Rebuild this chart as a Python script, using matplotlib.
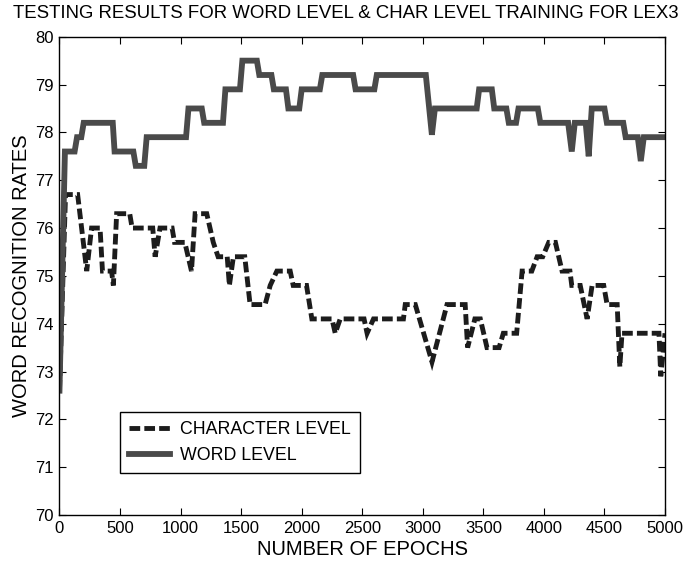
import numpy as np
import matplotlib
matplotlib.use('Agg')
import matplotlib.pyplot as plt

plt.rcParams['font.family'] = ['Liberation Sans', 'DejaVu Sans']

# corner points (epoch, recognition rate)
word_epochs = [0, 45, 125, 145, 180, 200, 440, 455, 610, 630, 700, 720, 1045, 1065,
               1175, 1195, 1350, 1370, 1490, 1510, 1630, 1650, 1750, 1770, 1870, 1890,
               1980, 2000, 2150, 2170, 2425, 2445, 2600, 2620, 3025, 3075, 3100, 3445,
               3465, 3570, 3590, 3690, 3710, 3770, 3790, 3950, 3970, 4200, 4230, 4255,
               4345, 4370, 4395, 4500, 4520, 4655, 4675, 4775, 4800, 4825, 5000]
word_rates = [72.6, 77.6, 77.6, 77.9, 77.9, 78.2, 78.2, 77.6, 77.6, 77.3, 77.3, 77.9, 77.9, 78.5,
              78.5, 78.2, 78.2, 78.9, 78.9, 79.5, 79.5, 79.2, 79.2, 78.9, 78.9, 78.5,
              78.5, 78.9, 78.9, 79.2, 79.2, 78.9, 78.9, 79.2, 79.2, 77.95, 78.5, 78.5,
              78.9, 78.9, 78.5, 78.5, 78.2, 78.2, 78.5, 78.5, 78.2, 78.2, 77.6, 78.2,
              78.2, 77.5, 78.5, 78.5, 78.2, 78.2, 77.9, 77.9, 77.4, 77.9, 77.9]

char_epochs = [0, 50, 150, 225, 265, 335, 355, 430, 445, 472, 580, 600, 770, 790, 830,
               930, 950, 1035, 1090, 1120, 1216, 1270, 1310, 1385, 1403, 1436, 1530, 1574,
               1698, 1740, 1795, 1905, 1930, 2040, 2084, 2250, 2277, 2318, 2515, 2540,
               2593, 2840, 2855, 2938, 3076, 3200, 3350, 3370, 3430, 3475, 3530, 3630,
               3665, 3775, 3820, 3900, 3944, 3990, 4040, 4095, 4150, 4215, 4230, 4300,
               4357, 4398, 4494, 4522, 4605, 4627, 4645, 4950, 4965, 5000]
char_rates = [72.6, 76.7, 76.7, 75.1, 76.0, 76.0, 75.1, 75.1, 74.8, 76.3, 76.3, 76.0, 76.0, 75.4, 76.0,
              76.0, 75.7, 75.7, 75.1, 76.3, 76.3, 75.7, 75.4, 75.4, 74.8, 75.4, 75.4, 74.4,
              74.4, 74.8, 75.1, 75.1, 74.8, 74.8, 74.1, 74.1, 73.8, 74.1, 74.1, 73.8,
              74.1, 74.1, 74.4, 74.4, 73.2, 74.4, 74.4, 73.5, 74.1, 74.1, 73.5, 73.5,
              73.8, 73.8, 75.1, 75.1, 75.4, 75.4, 75.7, 75.7, 75.1, 75.1, 74.8, 74.8,
              74.1, 74.8, 74.8, 74.4, 74.4, 73.1, 73.8, 73.8, 72.9, 73.8]

x_ticks = np.arange(0, 5001, 500)
y_ticks = np.arange(70, 81, 1)

fig = plt.figure(figsize=(6.86, 5.66), dpi=100)
ax = fig.add_axes([0.0867, 0.0901, 0.8827, 0.845])

ax.plot(char_epochs, char_rates, color='#1c1c1c', lw=3.5, dashes=(2.2, 0.85),
        label='CHARACTER LEVEL', solid_joinstyle='miter', dash_joinstyle='miter')
ax.plot(word_epochs, word_rates, color='#4a4a4a', lw=4.2,
        label='WORD LEVEL', solid_joinstyle='miter')

ax.set_xlim(0, 5000)
ax.set_ylim(70, 80)
ax.set_xticks(x_ticks)
ax.set_yticks(y_ticks)
ax.tick_params(direction='in', length=5, width=0.8, top=True, right=True,
               labelsize=12, pad=4)
for s in ax.spines.values():
    s.set_linewidth(1.0)

# title is centred on the figure, not on the axes
fig.text(0.504, 0.976, 'TESTING RESULTS FOR WORD LEVEL & CHAR LEVEL TRAINING FOR LEX3',
         fontsize=13.4, ha='center', va='center')
ax.set_xlabel('NUMBER OF EPOCHS', fontsize=14.5, labelpad=3)
ax.set_ylabel('WORD RECOGNITION RATES', fontsize=14.5, labelpad=3)

leg = ax.legend(loc='upper left', bbox_to_anchor=(0.1, 0.215), borderaxespad=0,
                fontsize=12.8, fancybox=False, framealpha=1, edgecolor='black',
                handlelength=2.3, borderpad=0.5, labelspacing=0.5, handletextpad=0.6)
leg.get_frame().set_linewidth(1.0)

fig.savefig('out.png', dpi=100)
